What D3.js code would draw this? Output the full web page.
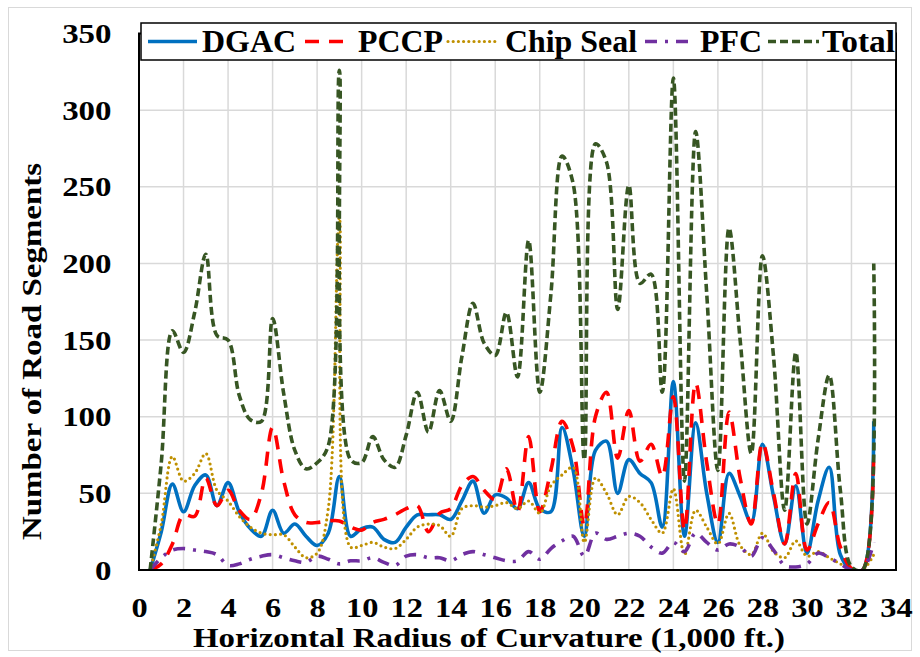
<!DOCTYPE html>
<html>
<head>
<meta charset="utf-8">
<script src="https://cdnjs.cloudflare.com/ajax/libs/d3/7.8.5/d3.min.js"></script>
<style>
  html, body { margin: 0; padding: 0; background: #fff; }
  svg { display: block; }
</style>
</head>
<body>
<svg id="chart" width="920" height="657"></svg>
<script>
// ---- Data ----
const radius = [0.5,1,1.5,2,2.5,3,3.5,4,4.5,5,5.5,6,6.5,7,7.5,8,8.5,9,9.5,10,10.5,11,11.5,12,12.5,13,13.5,14,14.5,15,15.5,16,16.5,17,17.5,18,18.5,19,19.5,20,20.5,21,21.5,22,22.5,23,23.5,24,24.5,25,25.5,26,26.5,27,27.5,28,28.5,29,29.5,30,30.5,31,31.5,32,32.5,33];

const dgac = [0,25,56,38,55,62,42,57,38,27,22,39,24,30,22,16,24,61,22,27,28,20,18,28,36,36,36,33,45,58,37,49,47,40,57,40,38,93,65,22,78,84,50,72,63,57,28,123,22,96,50,18,63,48,31,82,48,17,55,11,45,67,10,0,0,97];

const pccp = [0,4,17,36,35,60,42,52,39,33,50,93,58,36,31,31,32,32,28,26,31,33,36,40,42,25,37,40,55,61,52,46,66,38,87,38,65,97,80,29,100,116,73,104,71,82,61,113,26,122,70,30,103,60,30,83,50,17,63,13,30,44,15,1,0,77];

const chipSeal = [0,30,74,58,63,76,52,45,35,28,24,23,23,15,8,11,40,230,15,16,18,15,14,20,28,30,29,22,40,42,41,42,44,40,45,37,55,62,67,18,60,50,36,48,44,33,24,53,10,39,28,17,37,16,10,24,12,8,19,9,12,8,4,0,0,10];

const pfc = [0,8,13,14,13,12,10,3,4,7,9,10,8,6,5,9,7,4,6,6,8,5,3,9,10,8,8,6,10,12,10,8,6,6,12,7,14,19,22,9,24,20,22,24,22,15,11,18,12,24,18,13,17,15,9,21,13,3,2,4,11,8,4,0,0,18];

const total = [0,70,156,142,168,206,153,150,114,98,97,164,115,78,66,70,81,326,72,70,87,72,67,88,116,90,117,97,139,174,148,140,168,126,215,116,180,270,252,72,278,266,170,251,187,193,116,321,58,286,180,65,223,150,76,205,139,39,142,30,85,127,52,2,0,200];

const xTicks = [0,2,4,6,8,10,12,14,16,18,20,22,24,26,28,30,32,34];
const yTicks = [0,50,100,150,200,250,300,350];

const seriesNames = ["DGAC","PCCP","Chip Seal","PFC","Total"];
const seriesValues = [dgac, pccp, chipSeal, pfc, total];

// ---- Styles ----
const styles = {
  "DGAC":      { color: "#0070C0", width: 3.6, dash: null, cap: "butt" },
  "PCCP":      { color: "#FF0000", width: 3.6, dash: "14 10", cap: "butt" },
  "Chip Seal": { color: "#BF9000", width: 3.2, dash: "0 5.2", cap: "round" },
  "PFC":       { color: "#7030A0", width: 3.6, dash: "12 8 3 8", cap: "butt" },
  "Total":     { color: "#375623", width: 3.6, dash: "8 4", cap: "butt" }
};

const svg = d3.select("#chart");
const W = 920, H = 657;
const plot = { left: 139, right: 896, top: 33.5, bottom: 570 };

svg.append("rect").attr("width", W).attr("height", H).attr("fill", "#fff");
svg.append("rect").attr("x", 8.5).attr("y", 7.5).attr("width", 903).attr("height", 643)
  .attr("fill", "none").attr("stroke", "#d9d9d9").attr("stroke-width", 1);

const x = d3.scaleLinear().domain([0, 34]).range([plot.left, plot.right]);
const y = d3.scaleLinear().domain([0, 350]).range([plot.bottom, plot.top]);

// gridlines
const grid = svg.append("g");
grid.selectAll(".vg").data(xTicks.filter(t => t > 0 && t < 34)).enter().append("line")
  .attr("x1", d => x(d)).attr("x2", d => x(d))
  .attr("y1", plot.top).attr("y2", plot.bottom)
  .attr("stroke", "#d9d9d9").attr("stroke-width", 1.5);
grid.selectAll(".hg").data(yTicks.filter(t => t > 0 && t < 350)).enter().append("line")
  .attr("x1", plot.left).attr("x2", plot.right)
  .attr("y1", d => y(d)).attr("y2", d => y(d))
  .attr("stroke", "#d9d9d9").attr("stroke-width", 1.5);

// clip
svg.append("defs").append("clipPath").attr("id", "clip")
  .append("rect").attr("x", plot.left).attr("y", plot.top - 5)
  .attr("width", plot.right - plot.left).attr("height", plot.bottom - plot.top + 5);

const line = d3.line()
  .x((d, i) => x(radius[i]))
  .y(d => y(d))
  .curve(d3.curveCatmullRom.alpha(0.5));

const lines = svg.append("g").attr("clip-path", "url(#clip)");
seriesNames.forEach((name, k) => {
  const s = styles[name];
  lines.append("path")
    .datum(seriesValues[k])
    .attr("d", line)
    .attr("fill", "none")
    .attr("stroke", s.color)
    .attr("stroke-width", s.width)
    .attr("stroke-dasharray", s.dash)
    .attr("stroke-linecap", s.cap)
    .attr("stroke-linejoin", "round");
});

// plot border
svg.append("rect")
  .attr("x", plot.left).attr("y", plot.top)
  .attr("width", plot.right - plot.left).attr("height", plot.bottom - plot.top)
  .attr("fill", "none").attr("stroke", "#000").attr("stroke-width", 2);

const font = "'Liberation Serif', 'Times New Roman', serif";

// axes
const xAxis = svg.append("g").attr("transform", `translate(0,${plot.bottom})`)
  .call(d3.axisBottom(x).tickValues(xTicks).tickSize(0).tickFormat(d3.format("d")));
xAxis.select(".domain").remove();
xAxis.selectAll("text")
  .attr("y", 47).attr("dy", 0)
  .attr("transform", "scale(1.2,1)")
  .style("font-family", font).style("font-size", "27px").style("font-weight", "bold")
  .attr("fill", "#000");

const yAxis = svg.append("g").attr("transform", `translate(${plot.left},0)`)
  .call(d3.axisLeft(y).tickValues(yTicks).tickSize(0).tickFormat(d3.format("d")));
yAxis.select(".domain").remove();
yAxis.selectAll("text")
  .attr("x", -22.5).attr("dy", "0.34em")
  .attr("transform", "scale(1.22,1)")
  .style("font-family", font).style("font-size", "27px").style("font-weight", "bold")
  .attr("fill", "#000");

// axis titles
svg.append("text")
  .attr("x", 193).attr("y", 647)
  .attr("textLength", 592).attr("lengthAdjust", "spacingAndGlyphs")
  .style("font-family", font).style("font-size", "28px").style("font-weight", "bold")
  .text("Horizontal Radius of Curvature (1,000 ft.)");

svg.append("text")
  .attr("transform", "translate(41,540) rotate(-90)")
  .attr("x", 0).attr("y", 0)
  .attr("textLength", 377).attr("lengthAdjust", "spacingAndGlyphs")
  .style("font-family", font).style("font-size", "28px").style("font-weight", "bold")
  .text("Number of Road Segments");

// legend
const legend = svg.append("g");
legend.append("rect").attr("x", 141).attr("y", 23).attr("width", 755).attr("height", 37)
  .attr("fill", "#fff").attr("stroke", "#000").attr("stroke-width", 1.5);

const legendItems = [
  { name: "DGAC",      x1: 148, x2: 197, tx: 202, tl: 94 },
  { name: "PCCP",      x1: 305, x2: 345, tx: 358, tl: 85 },
  { name: "Chip Seal", x1: 448, x2: 498, tx: 505, tl: 132 },
  { name: "PFC",       x1: 645, x2: 696, tx: 700, tl: 62 },
  { name: "Total",     x1: 768, x2: 819, tx: 822, tl: 73 }
];
legendItems.forEach(it => {
  const s = styles[it.name];
  legend.append("line")
    .attr("x1", it.x1).attr("x2", it.x2).attr("y1", 41.5).attr("y2", 41.5)
    .attr("stroke", s.color).attr("stroke-width", s.width)
    .attr("stroke-dasharray", s.dash).attr("stroke-linecap", s.cap);
  legend.append("text")
    .attr("x", it.tx).attr("y", 52)
    .attr("textLength", it.tl).attr("lengthAdjust", "spacingAndGlyphs")
    .style("font-family", font).style("font-size", "32px").style("font-weight", "bold")
    .text(it.name);
});
</script>
</body>
</html>
